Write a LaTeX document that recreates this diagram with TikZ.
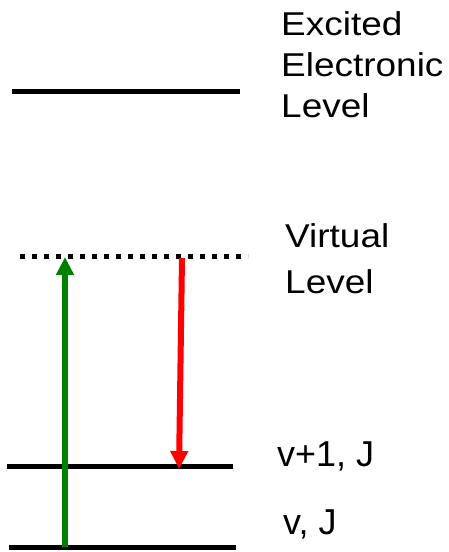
\documentclass[tikz,border=0pt]{standalone}
\usepackage{fontspec}
\setmainfont{Liberation Sans}
\newfontfamily\widefont[FakeStretch=1.12]{Liberation Sans}
\usetikzlibrary{arrows.meta}
\begin{document}
\begin{tikzpicture}[x=1pt,y=-1pt,
  level/.style={line width=5pt,black},
  vlevel/.style={line width=5pt,black,dash pattern=on 5pt off 7pt},
  lbl/.style={anchor=base west,inner sep=0pt,align=left,font=\widefont\fontsize{33}{41}\selectfont},
  lbls/.style={anchor=base west,inner sep=0pt,font=\fontsize{36}{41}\selectfont},
  trans/.style={line width=6pt,-{Triangle[width=17pt,length=18pt]}}]
\useasboundingbox (0,0) rectangle (448,552);
\coordinate (e1) at (12,91);  \coordinate (e2) at (240,91);
\coordinate (w1) at (20,256); \coordinate (w2) at (248,256);
\coordinate (u1) at (7,466);  \coordinate (u2) at (233,466);
\coordinate (g1) at (9,547);  \coordinate (g2) at (236,547);
\draw[level] (e1) -- (e2);
\draw[vlevel] (w1) -- (w2);
\draw[level] (u1) -- (u2);
\draw[level] (g1) -- (g2);
\coordinate (gs) at (65,547); \coordinate (gt) at (65,257);
\coordinate (rs) at (182,258); \coordinate (rt) at (179,469);
\draw[trans,green!50!black] (gs) -- (gt);
\draw[trans,red] (rs) -- (rt);
\node[lbl] (tex) at (281,117) {Excited\\Electronic\\Level};
\node[lbl,font=\widefont\fontsize{33}{46}\selectfont] (tvi) at (285,293) {Virtual\\Level};
\node[lbls] (tv1) at (277,466) {v+1, J};
\node[lbls] (tv0) at (283,534) {v, J};
\end{tikzpicture}
\end{document}
